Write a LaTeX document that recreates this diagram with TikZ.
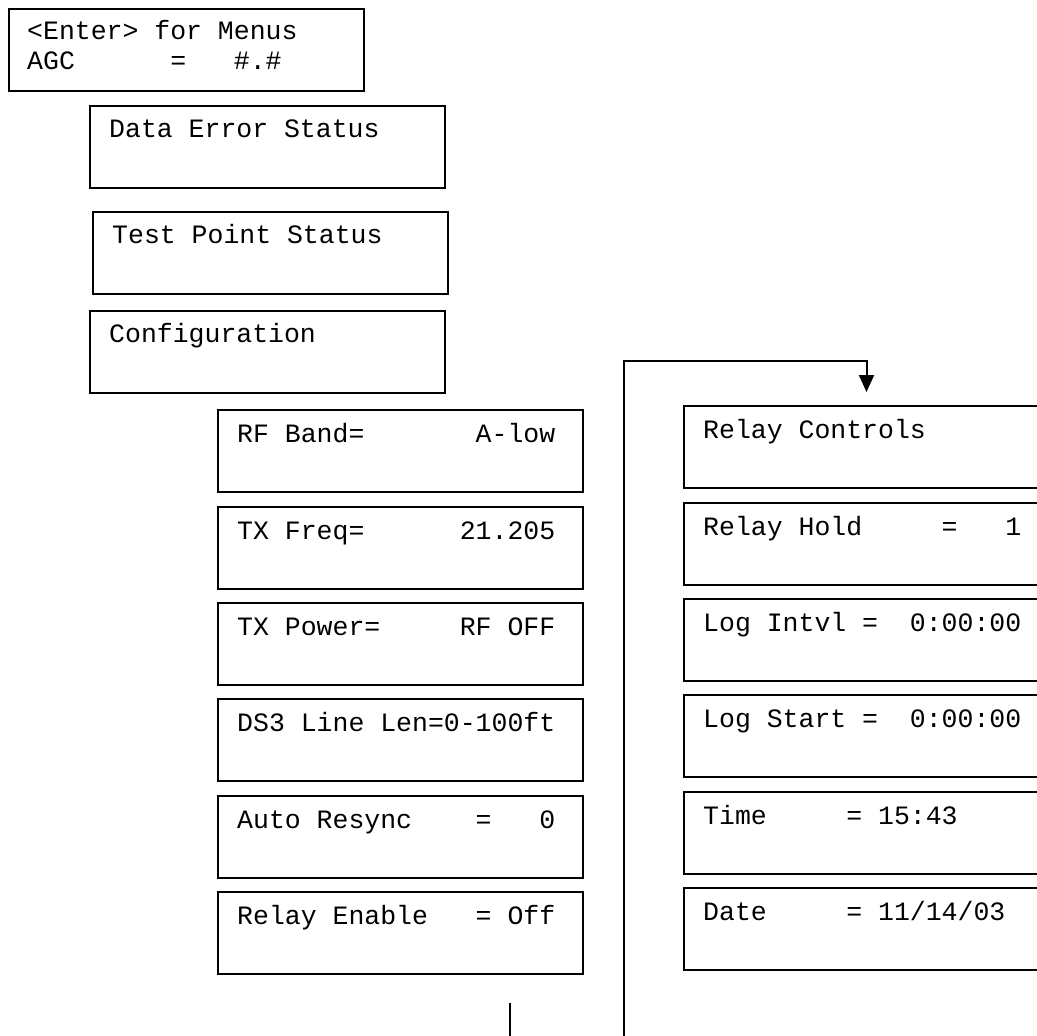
\documentclass[tikz,border=0pt]{standalone}
\usepackage{fontspec}
\setmonofont{Liberation Mono}
\usetikzlibrary{arrows.meta}
\begin{document}
\begin{tikzpicture}[x=1pt,y=1pt,
  lcd/.style={draw, line width=2pt, inner sep=0pt, anchor=north west, minimum height=82pt},
  narrow/.style={lcd, minimum width=355pt},
  wide/.style={lcd, minimum width=365pt},
  lcdtext/.style={anchor=base west, inner sep=0pt, font=\ttfamily\fontsize{26.5}{30}\selectfont},
  flow/.style={line width=2pt},
]
\useasboundingbox (0,0) rectangle (1037,-1036);
\clip (0,0) rectangle (1037,-1036);

% main menu screens
\node[narrow] (home) at (8,-8) {};
\node[lcdtext] (homeA) at ([shift={(19,-31)}]home.north west) {<Enter>~for~Menus};
\node[lcdtext] (homeB) at ([shift={(19,-61)}]home.north west) {AGC~~~~~~=~~~\#.\#};

\node[narrow] (des) at (89,-105) {};
\node[lcdtext] (destxt) at ([shift={(20,-32)}]des.north west) {Data~Error~Status};

\node[narrow] (tps) at (92,-211) {};
\node[lcdtext] (tpstxt) at ([shift={(20,-32)}]tps.north west) {Test~Point~Status};

\node[narrow] (cfg) at (89,-310) {};
\node[lcdtext] (cfgtxt) at ([shift={(20,-32)}]cfg.north west) {Configuration};

% configuration submenu
\node[wide] (rf) at (217,-409) {};
\node[lcdtext] (rftxt) at ([shift={(20,-33)}]rf.north west) {RF~Band=~~~~~~~A-low};

\node[wide] (txf) at (217,-506) {};
\node[lcdtext] (txftxt) at ([shift={(20,-33)}]txf.north west) {TX~Freq=~~~~~~21.205};

\node[wide] (txp) at (217,-602) {};
\node[lcdtext] (txptxt) at ([shift={(20,-33)}]txp.north west) {TX~Power=~~~~~RF~OFF};

\node[wide] (ds3) at (217,-698) {};
\node[lcdtext] (ds3txt) at ([shift={(20,-33)}]ds3.north west) {DS3~Line~Len=0-100ft};

\node[wide] (ars) at (217,-795) {};
\node[lcdtext] (arstxt) at ([shift={(20,-33)}]ars.north west) {Auto~Resync~~~~=~~~0};

\node[wide] (ren) at (217,-891) {};
\node[lcdtext] (rentxt) at ([shift={(20,-33)}]ren.north west) {Relay~Enable~~~=~Off};

% relay controls submenu
\node[wide] (rc) at (683,-405) {};
\node[lcdtext] (rctxt) at ([shift={(20,-33)}]rc.north west) {Relay~Controls};

\node[wide] (rh) at (683,-502) {};
\node[lcdtext] (rhtxt) at ([shift={(20,-33)}]rh.north west) {Relay~Hold~~~~~=~~~1};

\node[wide] (li) at (683,-598) {};
\node[lcdtext] (litxt) at ([shift={(20,-33)}]li.north west) {Log~Intvl~=~~0:00:00};

\node[wide] (ls) at (683,-694) {};
\node[lcdtext] (lstxt) at ([shift={(20,-33)}]ls.north west) {Log~Start~=~~0:00:00};

\node[wide] (tm) at (683,-791) {};
\node[lcdtext] (tmtxt) at ([shift={(20,-33)}]tm.north west) {Time~~~~~=~15:43};

\node[wide] (dt) at (683,-887) {};
\node[lcdtext] (dttxt) at ([shift={(20,-33)}]dt.north west) {Date~~~~~=~11/14/03};

% connectors
\coordinate (loopbot) at (624,-1036);
\coordinate (loopturn) at (624,-361);
\draw[flow, -{Triangle[width=15pt,length=17pt]}]
  (loopbot) -- (loopturn) -| ([yshift=13]rc.north);

\coordinate (stubtop) at (510,-1003);
\coordinate (stubbot) at (510,-1036);
\draw[flow] (stubtop) -- (stubbot);
\end{tikzpicture}
\end{document}
